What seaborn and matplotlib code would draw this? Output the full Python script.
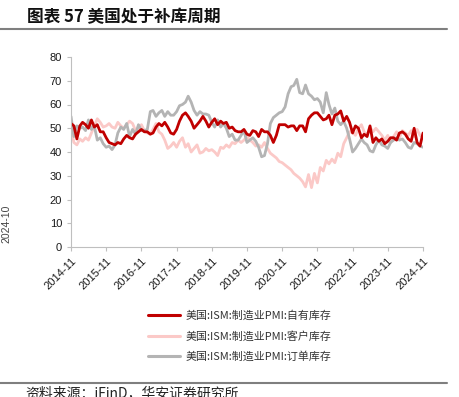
import pandas as pd
import numpy as np
import matplotlib
matplotlib.use('Agg')
import matplotlib.pyplot as plt
import matplotlib.dates as mdates
from matplotlib.lines import Line2D
import seaborn as sns

# monthly data, 2014-11 .. 2024-11
months = pd.date_range('2014-11-01', '2024-11-01', freq='MS')

own_inv = [52, 51,
           45.5, 51, 52.5, 51.5, 50, 53.5, 50.5, 51.5, 48.5, 48.5, 46, 44,
           43.5, 43, 44, 43.5, 45.5, 47, 46, 45.5, 47.5, 48.5, 49.5, 48.5,
           48.5, 47.5, 48, 50.5, 52, 51, 52.5, 50.5, 48, 47.5, 49.5, 53,
           55.5, 56.5, 55, 53, 50, 51.5, 53, 55, 53, 50.5, 52.5, 54,
           51.5, 53, 52, 52.5, 50, 50.5, 49, 48.5, 48.5, 49.5, 47.5, 47,
           49, 48.5, 46.5, 49.5, 48.5, 48.5, 47, 44, 47, 51.5, 51.5, 51.5,
           50.5, 51, 51, 49, 51, 51, 48.5, 54, 55.5, 56.5, 56.5, 55,
           53.5, 54, 55.5, 51.5, 55.5, 56, 57.3, 53, 55, 52.5, 48, 51,
           50, 46, 47.5, 46.5, 51, 44, 46, 44.5, 45.5, 43.5, 44.5, 46,
           46, 45, 48, 48.5, 47.5, 45.5, 44.5, 50, 44, 42.5, 48]

cust_inv = [50, 44,
            43, 45.5, 44.5, 46, 45, 48, 51, 54, 52.5, 50.5, 51, 52,
            50.5, 50, 52.5, 51, 50, 51.5, 53, 52, 49, 50, 51.5, 49,
            48, 47.5, 49.5, 52, 48.5, 47.5, 45, 41.5, 42.5, 44, 42, 44.5,
            46, 42, 43.5, 40, 41.5, 43, 39.5, 40, 41.5, 40.5, 41, 40,
            38.5, 42, 41.5, 43, 42, 44, 43.5, 45, 44, 45, 46.5, 45,
            44, 42.5, 43, 42, 44, 41.5, 39.5, 38.5, 37.5, 36, 35.5, 34.5,
            33.5, 32.5, 31, 30, 29, 27.5, 25.3, 30.5, 25, 31, 27, 33.5,
            32, 36.5, 35, 37, 35.5, 39.5, 38, 43.5, 46, 48.5, 48.5, 47,
            50, 51.5, 48.5, 47, 50.5, 48.5, 50, 48.5, 47, 45, 47, 44,
            46.5, 48.5, 46, 49, 48, 47, 49, 46.5, 49.5, 47, 46.5]

backlog = [55, 46.5,
           51, 50, 50.5, 49, 53.5, 49.5, 51, 45, 46, 43.5, 42, 42.5,
           41, 43, 48, 50.5, 49.5, 52, 46.5, 49.5, 47.5, 51.5, 49, 49,
           49.5, 57, 57.5, 55, 56.5, 57.5, 55, 57, 55.5, 55.5, 57, 59.5,
           60, 61, 63.5, 61, 57.5, 55.5, 57, 56, 56, 55.5, 52.5, 50.5,
           53.5, 50.5, 52, 50, 46.5, 47.5, 45, 45, 47, 49, 44, 45,
           46, 44.5, 42, 38, 38.5, 43.5, 52, 54.5, 55.5, 56.5, 57, 59,
           64.5, 67.5, 68, 70.6, 65, 64.5, 68.2, 64.5, 63.5, 62, 62.5, 61,
           56.5, 65, 60, 56, 58.5, 53, 51.5, 53, 50, 45.5, 40, 41.5,
           43.5, 45.5, 44, 43, 40.5, 40, 43, 45, 43, 42.5, 41.5, 44,
           45, 46, 45, 45.5, 44, 42, 41.5, 44, 43.5, 42.5, 42]

labels = ['美国:ISM:制造业PMI:自有库存',
          '美国:ISM:制造业PMI:客户库存',
          '美国:ISM:制造业PMI:订单库存']
colors = ['#C00000', '#FBC9C7', '#B4B4B4']

df = pd.DataFrame({'date': months, labels[0]: own_inv,
                   labels[1]: cust_inv, labels[2]: backlog})

sns.set_style('white')
plt.rcParams['font.family'] = ['Liberation Sans', 'Noto Sans CJK SC']

fig = plt.figure(figsize=(4.6, 3.97), dpi=100)
ax = fig.add_axes([71/460, 1-247/397, (423-71)/460, (247-57)/397])

# customers first, then backlog, own inventories on top
for lab, col in zip([labels[1], labels[2], labels[0]], [colors[1], colors[2], colors[0]]):
    sns.lineplot(data=df, x='date', y=lab, color=col, linewidth=2.0, ax=ax, legend=False)

ax.set_ylim(0, 80)
ax.set_yticks(range(0, 81, 10))
ax.set_xlim(months[0], months[-1])
xt = pd.date_range('2014-11-01', '2024-11-01', freq='12MS')
ax.set_xticks(xt)
ax.xaxis.set_major_formatter(mdates.DateFormatter('%Y-%m'))
ax.set_xlabel('')
ax.set_ylabel('')
for s in ['top', 'right']:
    ax.spines[s].set_visible(False)
for s in ['left', 'bottom']:
    ax.spines[s].set_color('#BFBFBF')
    ax.spines[s].set_linewidth(0.8)
ax.tick_params(axis='both', length=3, width=0.8, color='#BFBFBF', labelsize=8, labelcolor='#1a1a1a')
ax.tick_params(axis='both', which='both', bottom=True, left=True, direction='out')
plt.setp(ax.get_xticklabels(), rotation=45, ha='right', rotation_mode='anchor')

handles = [Line2D([], [], color=c, lw=2.2) for c in colors]
leg = fig.legend(handles, labels, loc='upper left', bbox_to_anchor=(143/460, 1-305/397),
                 frameon=False, prop={'family': 'Noto Sans CJK SC', 'size': 7.9},
                 handlelength=2.9, handletextpad=0.5, labelspacing=0.9, borderpad=0)
for t in leg.get_texts():
    t.set_color('#333333')

# title and separators
fig.text(27/460, 1-17/397, '图表 57 美国处于补库周期', fontsize=12, fontweight='bold',
         family=['Noto Sans CJK SC'], va='center', ha='left', color='#111111')
fig.add_artist(Line2D([0, 447/460], [1-29/397, 1-29/397], color='#7F7F7F', lw=1.5))
fig.add_artist(Line2D([0, 447/460], [1-383/397, 1-383/397], color='#7F7F7F', lw=1.5))
fig.text(25/460, 1-386/397, '资料来源：iFinD，华安证券研究所', fontsize=10,
         family=['Noto Sans CJK SC', 'Liberation Sans'], va='top', ha='left', color='#222222')

# stray label at the left edge
fig.text(1/460, 1-224/397, '2024-10', rotation=90, fontsize=7.5, va='center', ha='left', color='#444444')

fig.savefig('out.png', dpi=100)
